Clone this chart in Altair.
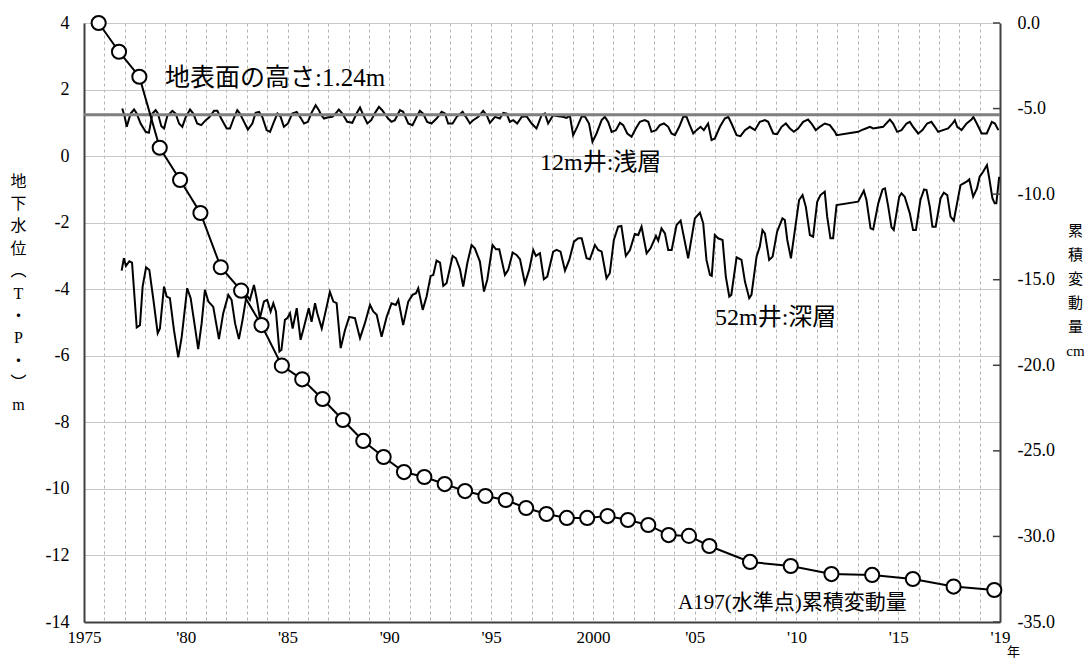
import altair as alt
import pandas as pd

# ---------------- data ----------------
# A197 benchmark: cumulative change (cm), surveyed each autumn
a197_year = [1975, 1976, 1977, 1978, 1979, 1980, 1981, 1982, 1983, 1984, 1985, 1986,
             1987, 1988, 1989, 1990, 1991, 1992, 1993, 1994, 1995, 1996, 1997, 1998,
             1999, 2000, 2001, 2002, 2003, 2004, 2005, 2007, 2009, 2011, 2013, 2015,
             2017, 2019]
a197_cm = [0.0, -1.68, -3.14, -7.29, -9.17, -11.1, -14.27, -15.64, -17.65, -20.02, -20.82,
           -21.97, -23.2, -24.42, -25.36, -26.24, -26.53, -26.94, -27.35, -27.64, -27.87,
           -28.34, -28.69, -28.92, -28.92, -28.81, -29.04, -29.33, -29.92, -29.97, -30.56,
           -31.49, -31.73, -32.2, -32.25, -32.49, -32.93, -33.13]
survey_offset = 0.72  # survey month as fraction of year

# 12m well (shallow), T.P. m
shallow_t = [1976.88, 1977.00, 1977.10, 1977.29, 1977.46, 1977.59, 1977.78, 1978.03, 1978.19,
             1978.36, 1978.52, 1978.63, 1978.80, 1978.93, 1979.09, 1979.34, 1979.50, 1979.67,
             1979.83, 1979.99, 1980.21, 1980.37, 1980.56, 1980.76, 1980.98, 1981.14, 1981.39,
             1981.55, 1981.74, 1982.01, 1982.17, 1982.37, 1982.53, 1982.66, 1982.82, 1983.05,
             1983.27, 1983.43, 1983.60, 1983.76, 1983.97, 1984.14, 1984.33, 1984.50, 1984.66,
             1984.82, 1985.02, 1985.23, 1985.45, 1985.61, 1985.81, 1986.00, 1986.16, 1986.38,
             1986.54, 1986.66, 1986.79, 1986.95, 1987.20, 1987.36, 1987.52, 1987.69, 1987.93,
             1988.18, 1988.39, 1988.56, 1988.72, 1988.92, 1989.11, 1989.33, 1989.49, 1989.65,
             1989.94, 1990.11, 1990.27, 1990.52, 1990.68, 1990.93, 1991.14, 1991.34, 1991.50,
             1991.66, 1991.86, 1992.07, 1992.32, 1992.57, 1992.73, 1992.89, 1993.11, 1993.31,
             1993.60, 1993.76, 1993.96, 1994.12, 1994.37, 1994.61, 1994.78, 1994.94, 1995.19,
             1995.43, 1995.60, 1995.76, 1995.92, 1996.09, 1996.28, 1996.50, 1996.74, 1996.99,
             1997.23, 1997.48, 1997.64, 1997.80, 1998.05, 1998.30, 1998.51, 1998.71, 1998.87,
             1999.03, 1999.23, 1999.44, 1999.60, 1999.81, 1999.98, 2000.18, 2000.43, 2000.59,
             2000.75, 2000.92, 2001.13, 2001.33, 2001.49, 2001.69, 2001.90, 2002.11, 2002.31,
             2002.55, 2002.72, 2002.88, 2003.10, 2003.29, 2003.49, 2003.70, 2003.86, 2004.03,
             2004.24, 2004.44, 2004.60, 2004.76, 2004.93, 2005.09, 2005.29, 2005.45, 2005.66,
             2005.83, 2005.99, 2006.24, 2006.48, 2006.65, 2006.81, 2007.06, 2007.25, 2007.47,
             2007.71, 2007.96, 2008.20, 2008.45, 2008.61, 2008.86, 2009.05, 2009.27, 2009.48,
             2009.68, 2009.87, 2010.08, 2010.33, 2010.57, 2010.74, 2010.95, 2011.15, 2011.39,
             2011.64, 2011.89, 2011.97, 2013.03, 2013.20, 2013.41, 2013.61, 2013.77, 2014.26,
             2014.59, 2014.75, 2014.95, 2015.16, 2015.41, 2015.57, 2015.73, 2015.98, 2016.19,
             2016.42, 2016.63, 2016.80, 2016.96, 2017.20, 2017.45, 2017.67, 2017.78, 2017.90,
             2018.11, 2018.36, 2018.60, 2018.69, 2018.86, 2019.10, 2019.35, 2019.60, 2019.75,
             2019.92]
shallow_m = [1.43, 1.18, 0.88, 1.28, 1.40, 1.28, 0.98, 0.73, 0.70,
             1.28, 1.38, 1.28, 0.90, 0.83, 1.20, 1.36, 1.28, 0.98,
             0.88, 1.16, 1.40, 1.28, 0.98, 0.93, 1.08, 1.16, 1.36,
             1.36, 1.13, 0.83, 0.83, 1.16, 1.38, 1.28, 1.08, 0.80,
             0.98, 1.30, 1.33, 1.18, 0.78, 0.73, 1.03, 1.28, 1.18,
             0.88, 0.98, 1.28, 1.33, 1.18, 0.98, 1.03, 1.28, 1.53,
             1.38, 1.23, 1.13, 1.16, 1.18, 1.28, 1.40, 1.28, 1.03,
             1.00, 1.28, 1.46, 1.23, 0.98, 1.08, 1.33, 1.48, 1.38,
             1.13, 1.03, 1.08, 1.38, 1.33, 0.98, 0.93, 1.18, 1.36,
             1.28, 1.03, 0.98, 1.13, 1.33, 1.28, 0.98, 0.98, 1.18,
             1.33, 1.18, 0.98, 1.08, 1.18, 1.36, 1.23, 1.00, 1.18,
             1.13, 1.30, 1.28, 1.03, 1.08, 0.98, 1.18, 1.20, 0.98,
             0.83, 1.23, 1.28, 0.98, 1.23, 1.20, 1.18, 1.15, 1.22,
             0.63, 0.88, 1.18, 1.20, 0.98, 0.43, 0.68, 1.08, 1.18,
             1.03, 0.73, 0.78, 1.00, 0.93, 0.68, 0.58, 0.83, 1.03,
             1.08, 1.03, 0.73, 0.78, 0.93, 0.98, 0.88, 0.68, 0.63,
             0.88, 1.18, 1.18, 0.93, 0.68, 0.78, 0.88, 0.78, 0.98,
             0.48, 0.53, 0.88, 1.13, 1.18, 0.98, 0.63, 0.60, 0.78,
             0.88, 0.78, 1.03, 1.08, 1.03, 0.68, 0.66, 0.88, 0.98,
             0.83, 0.73, 0.83, 1.03, 1.10, 0.98, 0.78, 0.88, 0.98,
             0.93, 0.73, 0.63, 0.73, 0.78, 0.83, 0.88, 0.83, 0.88,
             1.10, 0.98, 0.73, 0.78, 0.98, 1.03, 0.88, 0.68, 0.78,
             0.98, 1.03, 0.88, 0.73, 0.78, 0.83, 0.98, 1.08, 0.88,
             0.78, 0.98, 1.10, 1.18, 0.98, 0.68, 0.68, 1.03, 0.98,
             0.78]

# 52m well (deep), T.P. m
deep_t = [1976.85, 1976.96, 1977.06, 1977.23, 1977.36, 1977.59, 1977.75, 1977.88, 1978.05,
          1978.21, 1978.41, 1978.62, 1978.73, 1978.93, 1979.06, 1979.22, 1979.42, 1979.63,
          1979.80, 1980.07, 1980.24, 1980.45, 1980.61, 1980.78, 1980.94, 1981.11, 1981.35,
          1981.63, 1981.84, 1982.09, 1982.25, 1982.42, 1982.61, 1982.79, 1982.99, 1983.15,
          1983.35, 1983.48, 1983.64, 1983.84, 1984.00, 1984.17, 1984.30, 1984.43, 1984.60,
          1984.70, 1984.87, 1984.99, 1985.12, 1985.25, 1985.45, 1985.64, 1985.81, 1986.04,
          1986.18, 1986.35, 1986.46, 1986.68, 1986.92, 1987.08, 1987.25, 1987.41, 1987.61,
          1987.82, 1988.03, 1988.31, 1988.56, 1988.80, 1989.05, 1989.21, 1989.38, 1989.62,
          1989.87, 1990.11, 1990.32, 1990.44, 1990.68, 1990.93, 1991.14, 1991.31, 1991.42,
          1991.64, 1991.83, 1992.03, 1992.16, 1992.32, 1992.49, 1992.65, 1992.81, 1993.11,
          1993.27, 1993.47, 1993.63, 1993.83, 1994.04, 1994.20, 1994.45, 1994.65, 1994.81,
          1995.07, 1995.24, 1995.40, 1995.68, 1995.84, 1996.06, 1996.25, 1996.42, 1996.66,
          1996.87, 1997.07, 1997.20, 1997.40, 1997.59, 1997.76, 1998.05, 1998.22, 1998.41,
          1998.63, 1998.84, 1999.07, 1999.28, 1999.45, 1999.69, 1999.85, 2000.10, 2000.26,
          2000.43, 2000.67, 2000.83, 2001.03, 2001.24, 2001.40, 2001.62, 2001.82, 2002.06,
          2002.23, 2002.39, 2002.64, 2002.83, 2003.10, 2003.21, 2003.37, 2003.54, 2003.70,
          2003.87, 2004.11, 2004.31, 2004.68, 2005.01, 2005.26, 2005.42, 2005.58, 2005.75,
          2005.84, 2005.99, 2006.15, 2006.37, 2006.53, 2006.70, 2006.80, 2007.06, 2007.30,
          2007.47, 2007.68, 2007.79, 2008.04, 2008.20, 2008.33, 2008.45, 2008.66, 2008.83,
          2009.05, 2009.31, 2009.43, 2009.55, 2009.73, 2009.97, 2010.13, 2010.30, 2010.46,
          2010.66, 2010.82, 2011.02, 2011.18, 2011.39, 2011.51, 2011.67, 2011.80, 2011.97,
          2013.03, 2013.31, 2013.44, 2013.64, 2013.77, 2014.02, 2014.23, 2014.35, 2014.51,
          2014.67, 2014.78, 2015.05, 2015.16, 2015.32, 2015.57, 2015.73, 2015.87, 2016.09,
          2016.27, 2016.39, 2016.55, 2016.68, 2016.84, 2017.08, 2017.24, 2017.41, 2017.57,
          2017.73, 2017.89, 2018.06, 2018.36, 2018.49, 2018.68, 2018.87, 2019.00, 2019.17,
          2019.36, 2019.46, 2019.63, 2019.74, 2019.82, 2019.96]
deep_m = [-3.44, -3.07, -3.30, -3.16, -3.20, -5.15, -5.08, -3.92, -3.34,
          -3.42, -4.32, -5.32, -5.18, -3.92, -4.22, -4.27, -5.23, -6.05,
          -5.43, -3.97, -4.27, -5.13, -5.80, -5.02, -4.02, -4.37, -4.53,
          -5.50, -4.72, -4.17, -4.32, -5.02, -5.50, -4.92, -4.17, -4.32,
          -3.87, -4.27, -4.87, -4.37, -4.32, -4.67, -4.42, -4.67, -5.87,
          -5.82, -4.92, -4.87, -4.72, -5.18, -4.57, -5.52, -5.13, -4.57,
          -4.98, -4.42, -4.72, -5.18, -4.53, -4.08, -4.37, -4.42, -5.77,
          -5.23, -4.83, -4.87, -5.47, -5.02, -4.47, -4.67, -4.77, -5.43,
          -4.83, -4.42, -4.47, -4.32, -5.08, -4.37, -4.17, -4.12, -3.97,
          -4.62, -4.22, -3.60, -3.57, -3.14, -3.20, -3.90, -3.82, -3.00,
          -3.07, -3.40, -3.92, -3.22, -2.67, -2.77, -3.17, -4.07, -3.72,
          -2.67, -2.80, -2.80, -3.57, -3.42, -2.90, -2.97, -3.10, -3.82,
          -3.42, -2.82, -3.00, -2.92, -3.70, -3.62, -2.87, -2.82, -2.87,
          -3.44, -3.12, -2.57, -2.47, -2.47, -3.07, -3.10, -2.67, -2.82,
          -2.87, -3.67, -3.52, -2.52, -2.12, -2.10, -3.00, -2.82, -2.34,
          -2.37, -2.12, -2.92, -2.77, -2.40, -2.54, -2.17, -2.32, -2.82,
          -2.82, -2.07, -1.94, -3.07, -1.87, -1.70, -2.02, -3.12, -3.57,
          -3.60, -2.37, -2.47, -2.52, -3.62, -4.22, -4.17, -3.04, -3.12,
          -3.77, -4.27, -4.17, -3.02, -2.72, -2.22, -2.32, -3.12, -3.02,
          -2.27, -1.87, -1.92, -2.52, -3.07, -2.02, -1.32, -1.17, -1.52,
          -2.37, -2.42, -1.37, -1.17, -1.07, -1.82, -2.47, -2.47, -1.47,
          -1.37, -1.04, -1.32, -2.17, -2.20, -1.42, -1.00, -0.97, -1.52,
          -2.14, -2.22, -1.22, -1.12, -1.22, -1.72, -2.22, -2.22, -1.32,
          -1.00, -1.02, -1.52, -2.12, -2.12, -1.27, -1.10, -1.17, -1.82,
          -1.94, -1.42, -0.87, -0.77, -0.70, -1.22, -0.97, -0.62, -0.47,
          -0.27, -0.62, -1.27, -1.42, -1.42, -0.62]

ground_level = 1.24

# annotation texts (anchored in data coordinates)
ann_text = ["地表面の高さ:1.24m", "12m井:浅層", "52m井:深層"]
ann_t = [1978.98, 1997.4, 2006.0]
ann_m = [2.34, -0.21, -4.86]
ann_size = [25, 24, 24]
a197_label = "A197(水準点)累積変動量"
a197_label_t = 2004.18
a197_label_m = -13.43

x_ticks = list(range(1975, 2021))
left_ticks = list(range(-14, 5, 2))
right_ticks = [0, -5, -10, -15, -20, -25, -30, -35]
left_title = ["地", "下", "水", "位", "︵", "T", "・", "P", "・", "︶", "m"]
right_title = ["累", "積", "変", "動", "量", "", "cm"]

# ---------------- chart ----------------
W, H = 916, 599
FONT = "Liberation Serif, Noto Sans CJK JP"
DARK = "#404040"

shallow_df = pd.DataFrame({"t": shallow_t, "m": shallow_m})
deep_df = pd.DataFrame({"t": deep_t, "m": deep_m})
a197_df = pd.DataFrame({"t": [y + survey_offset for y in a197_year], "cm": a197_cm})
ann_df = pd.DataFrame({"t": ann_t, "m": ann_m, "label": ann_text, "size": ann_size})
a197_lab_df = pd.DataFrame({"t": [a197_label_t], "m": [a197_label_m], "label": [a197_label]})
rtick_df = pd.DataFrame({"cm": right_ticks})

x_label_expr = (
    "datum.value == 1975 || datum.value == 2000 ? toString(datum.value) : "
    "datum.value == 2020 ? \"'19\" : "
    "datum.value % 5 == 0 ? \"'\" + substring(toString(datum.value), 2, 4) : ''"
)

x_enc = alt.X(
    "t:Q",
    scale=alt.Scale(domain=[1975, 2020], nice=False, zero=False),
    axis=alt.Axis(
        values=x_ticks, labelExpr=x_label_expr, grid=True, gridDash=[3, 3],
        gridColor="#b4b4b4", gridWidth=1, ticks=False, tickSize=0, labelPadding=7,
        domainColor=DARK, domainWidth=2, labelFont=FONT, labelFontSize=17,
        labelColor="#000", labelOverlap=False, labelFlush=False, labelBound=False,
        title="年", titleX=929, titleY=29, titleAngle=0, titleAlign="center",
        titleBaseline="middle", titleFont=FONT, titleFontSize=13,
        titleFontWeight="normal", titleColor="#000",
    ),
)

yl_enc = alt.Y(
    "m:Q",
    scale=alt.Scale(domain=[-14, 4], nice=False, zero=False),
    axis=alt.Axis(
        values=left_ticks, labelExpr="toString(datum.value)", grid=True,
        gridColor="#c8c8c8", gridWidth=1, ticks=False, tickSize=0, labelPadding=15,
        domainColor=DARK, domainWidth=2, labelFont=FONT, labelFontSize=18,
        labelColor="#000", title=left_title, titleAngle=0, titleX=-66, titleY=150,
        titleAlign="center", titleBaseline="top", titleLineHeight=22.4,
        titleFont=FONT, titleFontSize=16, titleFontWeight="normal", titleColor="#000",
    ),
)

yr_enc = alt.Y(
    "cm:Q",
    scale=alt.Scale(domain=[-35, 0], nice=False, zero=False),
    axis=alt.Axis(
        orient="right", values=right_ticks, labelExpr="toString(datum.value) + '.0'",
        grid=False, ticks=False, tickSize=0, labelPadding=17, domainColor=DARK,
        domainWidth=2, labelFont=FONT, labelFontSize=18, labelColor="#000",
        labelAlign="left", title=right_title, titleAngle=0, titleX=75, titleY=200,
        titleAlign="center", titleBaseline="top", titleLineHeight=24,
        titleFont=FONT, titleFontSize=15, titleFontWeight="normal", titleColor="#000",
    ),
)

shallow_line = alt.Chart(shallow_df).mark_line(color="#000", strokeWidth=2).encode(x=x_enc, y=yl_enc)
deep_line = alt.Chart(deep_df).mark_line(color="#000", strokeWidth=2).encode(x=x_enc, y=yl_enc)
ground_rule = alt.Chart(pd.DataFrame({"m": [ground_level]})).mark_rule(
    color="#7f7f7f", strokeWidth=3).encode(y=yl_enc)
ann = alt.Chart(ann_df).mark_text(align="left", baseline="middle", font=FONT, color="#000").encode(
    x=x_enc, y=yl_enc, text="label:N", size=alt.Size("size:Q", scale=None, legend=None))
a197_ann = alt.Chart(a197_lab_df).mark_text(
    align="left", baseline="middle", font=FONT, fontSize=21, color="#000").encode(
    x=x_enc, y=yl_enc, text="label:N")

left = alt.layer(shallow_line, deep_line, ground_rule, ann, a197_ann)

a197_line = alt.Chart(a197_df).mark_line(color="#000", strokeWidth=2).encode(x=x_enc, y=yr_enc)
a197_pts = alt.Chart(a197_df).mark_point(
    shape="circle", size=200, filled=True, fill="#fff", stroke="#000", strokeWidth=2, opacity=1
).encode(x=x_enc, y=yr_enc)
rticks = alt.Chart(rtick_df).mark_rule(color=DARK, strokeWidth=1.5).encode(
    y=yr_enc, x=alt.value(W - 7), x2=alt.value(W))

right = alt.layer(a197_line, a197_pts, rticks)

chart = alt.layer(left, right).resolve_scale(y="independent").properties(
    width=W, height=H,
    autosize=alt.AutoSizeParams(type="none"),
    padding={"left": 76, "top": 15, "right": 84, "bottom": 36},
).configure_view(stroke="#8c8c8c", strokeWidth=2).configure(background="#ffffff")

chart.save("out.html", embed_options={"renderer": "svg", "actions": False})
